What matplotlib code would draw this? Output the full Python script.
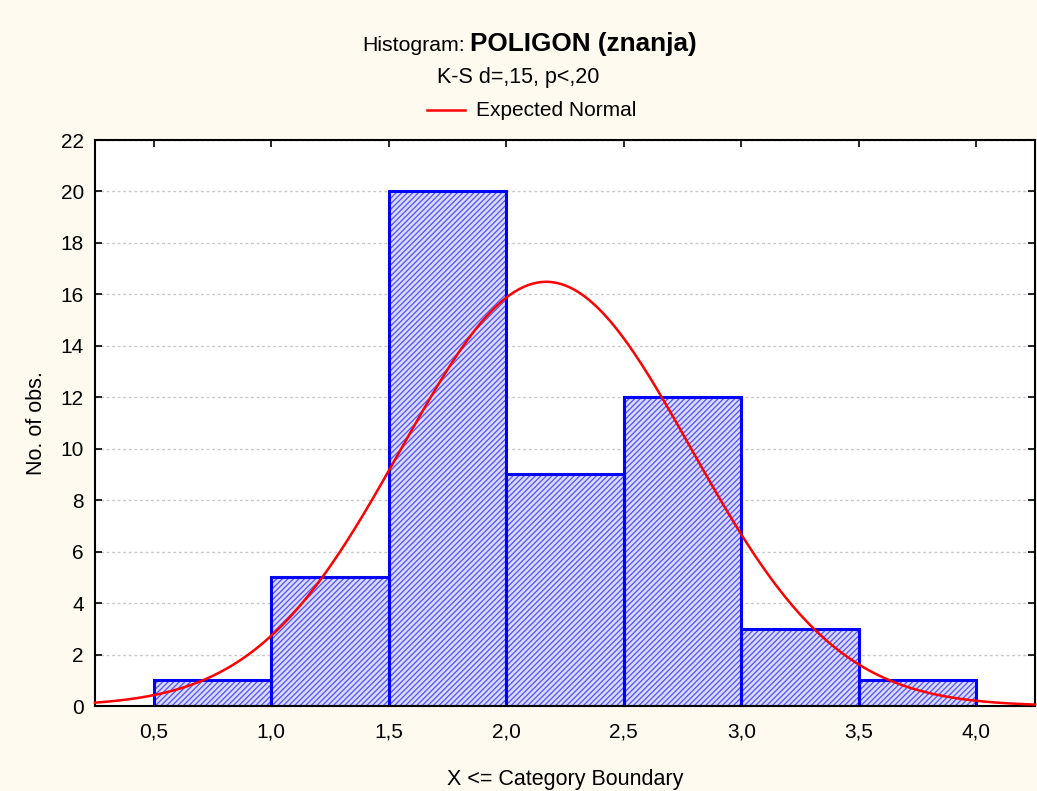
import numpy as np
import matplotlib.pyplot as plt

plt.rcParams['font.family'] = ['Liberation Sans', 'DejaVu Sans']
plt.rcParams['hatch.linewidth'] = 1.0

# histogram data
bin_edges = [0.5, 1.0, 1.5, 2.0, 2.5, 3.0, 3.5, 4.0]
counts = [1, 5, 20, 9, 12, 3, 1]
x_ticks = [0.5, 1.0, 1.5, 2.0, 2.5, 3.0, 3.5, 4.0]
x_ticklabels = ["0,5", "1,0", "1,5", "2,0", "2,5", "3,0", "3,5", "4,0"]
y_ticks = [0, 2, 4, 6, 8, 10, 12, 14, 16, 18, 20, 22]

# expected normal parameters
mu = 2.17
sigma = 0.617
n_obs = sum(counts)
bin_w = 0.5

bg = '#fffaf0'
fig = plt.figure(figsize=(10.37, 7.91), dpi=100, facecolor=bg)
ax = fig.add_axes([95 / 1037, 85 / 791, 940 / 1037, 566 / 791])
ax.set_facecolor('white')

lefts = bin_edges[:-1]
widths = np.diff(bin_edges)
# hatch fill (lighter blue) then solid blue outline
ax.bar(lefts, counts, width=widths, align='edge', facecolor='#dcdcff',
       edgecolor='#5a5aff', linewidth=0, hatch='//////', zorder=2)
ax.bar(lefts, counts, width=widths, align='edge', fill=False,
       edgecolor='#0000ff', linewidth=2.2, zorder=2.5)

xs = np.linspace(0.25, 4.25, 400)
ys = n_obs * bin_w / (sigma * np.sqrt(2 * np.pi)) * np.exp(-0.5 * ((xs - mu) / sigma) ** 2)
ax.plot(xs, ys, color='#ff0000', linewidth=1.8, zorder=3, clip_on=False)

ax.set_xlim(0.25, 4.25)
ax.set_ylim(0, 22)
ax.set_xticks(x_ticks)
ax.set_xticklabels(x_ticklabels)
ax.set_yticks(y_ticks)
ax.tick_params(direction='in', top=True, right=True, length=5, width=1.2,
               labelsize=15, pad=12)
ax.tick_params(axis='y', pad=8)
ax.yaxis.grid(True, color='#c8c8c8', linestyle=(0, (2, 2)), linewidth=1, zorder=0)
ax.set_axisbelow(True)
for s in ax.spines.values():
    s.set_linewidth(1.5)

ax.set_xlabel("X <= Category Boundary", fontsize=15.5, labelpad=20)
ax.set_ylabel("No. of obs.", fontsize=15.5, labelpad=10)

# titles
fig.text(465 / 1037, 1 - 51 / 791, "Histogram:", ha='right', va='baseline', fontsize=15.3)
fig.text(470 / 1037, 1 - 51 / 791, "POLIGON (znanja)", ha='left', va='baseline',
         fontsize=18.8, fontweight='bold')
fig.text(0.5, 1 - 78 / 791, "K-S d=,15, p<,20", ha='center', va='center', fontsize=15.5)
fig.add_artist(plt.Line2D([427 / 1037, 465 / 1037], [1 - 110 / 791, 1 - 110 / 791],
                          color='#ff0000', linewidth=1.8))
fig.text(476 / 1037, 1 - 110 / 791, "Expected Normal", ha='left', va='center', fontsize=15)

fig.savefig("out.png", dpi=100, facecolor=bg)
